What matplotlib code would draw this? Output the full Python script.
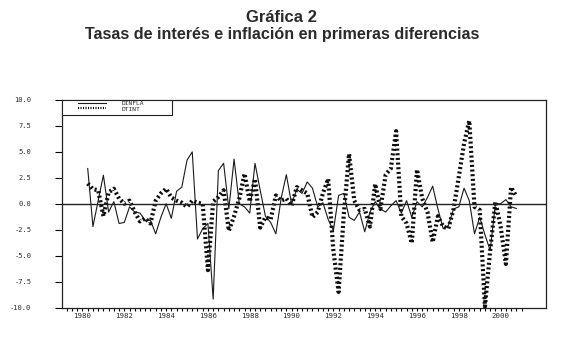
"""
Grafica 2 — first differences of interest rate and inflation
=============================================================
Quarterly series DINFLA (solid) and DTINT (dotted), 1980-2000.
"""

from __future__ import annotations

import matplotlib

matplotlib.use("Agg")

import matplotlib.pyplot as plt
import numpy as np
from matplotlib.patches import Rectangle
from matplotlib.ticker import FixedLocator, FuncFormatter


START_YEAR = 1980.25
STEP = 0.25

# first difference of inflation (quarterly)
dinfla = [
    3.4, -2.2, 0.3, 2.75, -0.8, 0.2, -1.9, -1.8, -0.3, -0.8,
    -0.9, -1.6, -1.6, -2.9, -1.3, 0.0, -1.4, 1.2, 1.6, 4.2,
    5.0, -3.4, -2.4, -1.9, -9.2, 3.2, 3.9, -0.5, 4.3, 0.0,
    -0.3, -0.9, 3.9, 1.3, -1.2, -1.8, -2.9, 0.5, 2.8, 0.0,
    1.4, 1.0, 2.1, 1.5, -0.3, 0.1, -1.5, -2.6, 0.8, 1.0,
    -1.3, -1.6, -0.8, -2.7, -0.8, 0.2, -0.5, -0.8, -0.2, 0.3,
    -0.9, 0.3, -1.3, 0.2, -0.3, 0.6, 1.7, -0.5, -2.4, -2.1,
    -0.5, -0.3, 1.5, 0.3, -2.9, -1.3, -3.0, -4.5, 0.0, 0.0,
    0.4, -0.3, -0.45,
]

# first difference of the interest rate
dtint = [
    1.95, 1.4, 1.3, -1.2, 1.1, 1.45, 0.5, 0.0, 0.3, -0.8,
    -1.7, -1.4, -1.9, 0.3, 1.0, 1.45, 0.6, 0.3, 0.1, -0.3,
    0.3, 0.1, 0.0, -6.4, 0.2, 0.65, 1.3, -2.6, -1.2, 0.5,
    2.9, 0.2, 2.4, -2.3, -1.3, -1.5, 0.8, 0.3, 0.5, -0.2,
    1.6, 1.3, 1.0, -1.3, -0.8, 1.0, 2.4, -4.5, -8.5, -1.0,
    4.8, 0.3, -0.6, -0.5, -2.2, 1.9, -0.5, 2.8, 3.4, 7.0,
    -1.2, -1.9, -3.8, 3.3, 0.5, -0.8, -3.7, -1.2, -2.2, -2.4,
    -0.5, 2.6, 5.8, 8.0, -0.3, -0.6, -9.9, -4.5, 0.2, -2.2,
    -5.8, 1.6, 0.7,
]

y_ticks = [-10.0, -7.5, -5.0, -2.5, 0.0, 2.5, 5.0, 7.5, 10.0]
x_tick_years = list(range(1980, 2001, 2))
series_labels = ["DINFLA", "DTINT"]

TITLE = "Gráfica 2"
SUBTITLE = "Tasas de interés e inflación en primeras diferencias"
TEXT_COLOR = "#2b2b2b"


def _dates(n: int) -> np.ndarray:
    return START_YEAR + STEP * np.arange(n)


def plot_chart(output: str = "out.png") -> None:
    fig = plt.figure(figsize=(5.75, 3.37), dpi=100)
    ax = fig.add_axes([62 / 575, 1 - 307.5 / 337, 484 / 575, 207.5 / 337])

    t = _dates(len(dinfla))
    ax.plot(t, dinfla, color="#1a1a1a", linewidth=0.8, label=series_labels[0])
    ax.plot(
        _dates(len(dtint)),
        dtint,
        color="#0d0d0d",
        linewidth=3.0,
        linestyle=(0, (0.5, 0.62)),
        dash_capstyle="butt",
        label=series_labels[1],
    )
    ax.axhline(0.0, color="#222222", linewidth=1.0)

    ax.set_xlim(1979.02, 2002.17)
    ax.set_ylim(-10, 10)

    ax.yaxis.set_major_locator(FixedLocator(y_ticks))
    ax.yaxis.set_major_formatter(FuncFormatter(lambda v, _: f"{v:.1f}"))
    ax.tick_params(
        axis="y", direction="out", length=5, width=0.8, pad=17,
        labelsize=5, labelcolor=TEXT_COLOR,
    )
    for lbl in ax.get_yticklabels():
        lbl.set_fontfamily("DejaVu Sans Mono")

    ax.xaxis.set_major_locator(FixedLocator(x_tick_years))
    ax.xaxis.set_minor_locator(FixedLocator(np.arange(1979, 2001.01, 0.25)))
    ax.xaxis.set_major_formatter(FuncFormatter(lambda v, _: f"{int(v)}"))
    ax.tick_params(
        axis="x", which="both", direction="out", length=2.2, width=0.8,
        pad=1.5, labelsize=5.3, labelcolor=TEXT_COLOR,
    )
    for lbl in ax.get_xticklabels():
        lbl.set_fontfamily("DejaVu Sans Mono")

    for spine in ax.spines.values():
        spine.set_linewidth(0.9)
        spine.set_color("#222222")

    # legend box in the top-left corner
    ax.add_patch(
        Rectangle(
            (0.0, 1 - 15 / 207.5), 110 / 484, 15 / 207.5,
            transform=ax.transAxes, facecolor="white",
            edgecolor="#222222", linewidth=0.8, zorder=4,
        )
    )
    leg = ax.legend(
        loc="upper left",
        bbox_to_anchor=(16 / 484, 1 - 0.5 / 207.5),
        frameon=False,
        borderpad=0,
        borderaxespad=0,
        handlelength=4.4,
        handletextpad=2.6,
        labelspacing=0.05,
        prop={"family": "DejaVu Sans Mono", "size": 4.5},
    )
    leg.set_zorder(5)
    for txt in leg.get_texts():
        txt.set_color(TEXT_COLOR)
    leg.get_lines()[1].set_linewidth(1.6)

    fig.text(0.49, 1 - 17 / 337, TITLE, ha="center", va="center",
             fontsize=12, fontweight="bold", family="Liberation Sans",
             color=TEXT_COLOR)
    fig.text(0.49, 1 - 35 / 337, SUBTITLE, ha="center", va="center",
             fontsize=11.6, fontweight="bold", family="Liberation Sans",
             color=TEXT_COLOR)

    fig.savefig(output, dpi=100, facecolor="white")
    plt.close(fig)


if __name__ == "__main__":
    plot_chart()
